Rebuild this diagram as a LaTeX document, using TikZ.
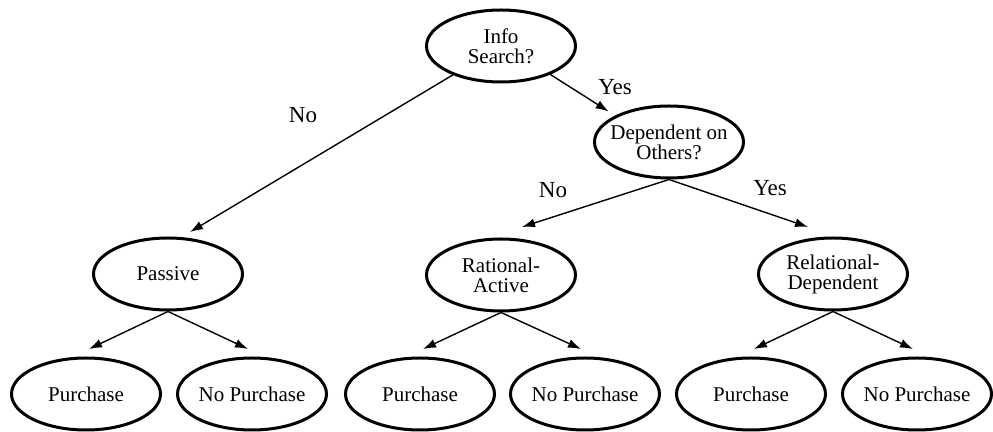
\documentclass[tikz,border=0pt]{standalone}
\usepackage{fontspec}
\setmainfont{Liberation Serif}
\usetikzlibrary{arrows.meta,shapes.geometric}
\tikzset{state/.style = {shape=ellipse,draw,line width=1.5pt,minimum width=74.5pt,minimum height=36pt,inner xsep=-4pt,inner ysep=0pt,align=center,font=\fontsize{10.5}{10}\selectfont}}
\tikzset{edge/.style = {-{Latex[length=6.5pt,width=4.5pt]},line width=0.7pt}}
\tikzset{answer/.style = {font=\fontsize{11.5}{12}\selectfont}}

\begin{document}
\begin{tikzpicture}[x=0.5pt,y=-0.5pt]
          \useasboundingbox (0,0) rectangle (993,432);

          \node[state] (info) at (501, 46) {Info\\Search?};
          \node[state] (dep) at (669, 142) {Dependent on\\Others?};
          \node[state] (passive) at (168, 274) {Passive};
          \node[state] (rational) at (501, 275) {Rational-\\Active};
          \node[state] (relational) at (833, 274) {Relational-\\Dependent};

          \node[state] (buyA) at (86, 394) {Purchase};
          \node[state] (nobuyA) at (252, 394) {No Purchase};
          \node[state] (buyB) at (420, 394) {Purchase};
          \node[state] (nobuyB) at (585, 394) {No Purchase};
          \node[state] (buyC) at (751, 394) {Purchase};
          \node[state] (nobuyC) at (917, 394) {No Purchase};

          \node[answer] (noInfo) at (303, 115) {No};
          \node[answer] (yesInfo) at (615, 87) {Yes};
          \node[answer] (noDep) at (553, 190) {No};
          \node[answer] (yesDep) at (770, 188) {Yes};

          \draw[edge] (info.211) to ([xshift=11pt,yshift=2.25pt]passive.north);
          \draw[edge] (info.330) to ([xshift=-5.5pt,yshift=1pt]dep.150);
          \draw[edge] (dep.south) to ([xshift=10.5pt,yshift=5.25pt]rational.north);
          \draw[edge] (dep.south) to ([xshift=-12.5pt,yshift=4.75pt]relational.north);

          \foreach \from/\left/\right in {passive/buyA/nobuyA, rational/buyB/nobuyB, relational/buyC/nobuyC} {
            \draw[edge] (\from.south) to ([xshift=1.5pt,yshift=3.75pt]\left.north);
            \draw[edge] (\from.south) to ([xshift=-2pt,yshift=3.75pt]\right.north);
          }
        \end{tikzpicture}
\end{document}
